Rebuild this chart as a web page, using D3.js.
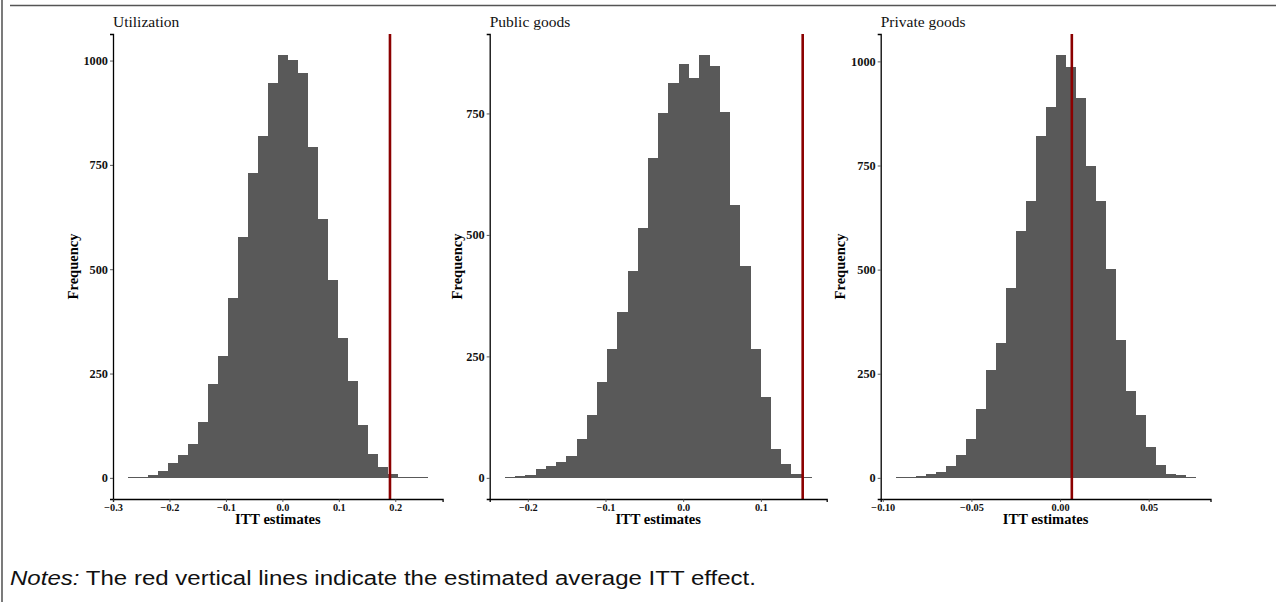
<!DOCTYPE html>
<html>
<head>
<meta charset="utf-8">
<script src="https://cdn.jsdelivr.net/npm/d3@7"></script>
<style>
  body { margin: 0; background: #fff; }
  .tick-label { font-family: "Liberation Serif", "Times New Roman", serif; font-weight: bold; fill: #111; }
  .axis-title { font-family: "Liberation Serif", "Times New Roman", serif; font-weight: bold; font-size: 14.5px; fill: #000; }
  .panel-title { font-family: "Liberation Serif", "Times New Roman", serif; font-size: 15.5px; fill: #111; }
  .notes { font-family: "Liberation Sans", Arial, sans-serif; font-size: 20px; fill: #111; }
</style>
</head>
<body>
<div class="chart"></div>
<script>
const titles = ['Utilization', 'Public goods', 'Private goods'];

// histogram bins: first edge and width (ITT units), 30 bins each
const binStart = [-0.2735, -0.2293, -0.0927];
const binWidth = [0.017693, 0.013143, 0.005637];

const countsUtil = [1, 2, 6, 16, 35, 54, 80, 135, 224, 293, 430, 578, 730, 819, 946, 1013, 1001, 970, 793, 621, 475, 336, 233, 126, 57, 26, 9, 2, 1, 1];
const countsPublic = [1, 3, 6, 18, 24, 32, 45, 80, 129, 197, 266, 342, 425, 515, 659, 751, 813, 852, 823, 870, 848, 753, 562, 437, 266, 166, 59, 28, 8, 1];
const countsPrivate = [1, 1, 4, 9, 14, 28, 54, 93, 165, 258, 323, 455, 592, 665, 821, 891, 1015, 986, 912, 749, 665, 502, 330, 208, 150, 74, 30, 9, 6, 1];
const counts = [countsUtil, countsPublic, countsPrivate];

// estimated average ITT effect (red lines)
const itt = [0.1906, 0.1538, 0.00665];

const yTicks = [[0, 250, 500, 750, 1000], [0, 250, 500, 750], [0, 250, 500, 750, 1000]];
const xTicks = [[-0.3, -0.2, -0.1, 0, 0.1, 0.2], [-0.2, -0.1, 0, 0.1], [-0.1, -0.05, 0, 0.05]];
const xFormat = ['.1f', '.1f', '.2f'];

const width = 1281, height = 602;

// panel layout (px)
const panelX = [[113, 442.6], [489.7, 826.7], [880.7, 1210.5]];
const freqX = [78, 461.5, 845];
const panelTop = 34, panelBottom = 499;

const svg = d3.select('.chart').append('svg')
  .attr('width', width)
  .attr('height', height);

// frame lines
svg.append('line')
  .attr('x1', 2).attr('x2', 2).attr('y1', 0).attr('y2', height)
  .style('stroke', '#222').style('stroke-width', 1.2);
svg.append('line')
  .attr('x1', 10).attr('x2', 1276).attr('y1', 5.5).attr('y2', 5.5)
  .style('stroke', '#555').style('stroke-width', 1.6);

titles.forEach((t, i) => {

  let c = counts[i];
  let bins = c.map((n, j) => ({x0: binStart[i] + j * binWidth[i], x1: binStart[i] + (j + 1) * binWidth[i], n: n}));

  let lo = bins[0].x0, hi = bins[bins.length - 1].x1;
  let pad = (hi - lo) * 0.05;

  let x = d3.scaleLinear()
  .domain([lo - pad, hi + pad])
  .range(panelX[i]);

  let maxN = d3.max(c);
  let y = d3.scaleLinear()
  .domain([-maxN * 0.05, maxN * 1.05])
  .range([panelBottom, panelTop]);

  const g = svg.append('g').attr('class', 'panel');

  g.selectAll('rect')
  .data(bins)
  .enter()
  .append('rect')
  .attr('x', d => x(d.x0))
  .attr('width', d => x(d.x1) - x(d.x0) + 0.5)
  .attr('y', d => y(d.n))
  .attr('height', d => y(0) - y(d.n))
  .attr('shape-rendering', 'crispEdges')
  .style('fill', '#595959');

  // red ITT line
  g.append('line')
  .attr('x1', x(itt[i])).attr('x2', x(itt[i]))
  .attr('y1', panelTop).attr('y2', panelBottom)
  .style('stroke', '#8b0000')
  .style('stroke-width', 2.6);

  const yAxis = g.append('g')
  .attr('transform', 'translate(' + panelX[i][0] + ',0)')
  .call(d3.axisLeft(y).tickValues(yTicks[i]).tickSize(3).tickPadding(2).tickFormat(d3.format('d')));

  const xAxis = g.append('g')
  .attr('transform', 'translate(0,' + panelBottom + ')')
  .call(d3.axisBottom(x).tickValues(xTicks[i]).tickSize(3).tickPadding(1.5).tickFormat(d3.format(xFormat[i])));

  [yAxis, xAxis].forEach(a => {
    a.select('.domain').style('stroke', '#000').style('stroke-width', 1.3);
    a.selectAll('.tick line').style('stroke', '#333').style('stroke-width', 0.8);
    a.selectAll('.tick text').attr('class', 'tick-label').style('fill', '#111');
  });
  yAxis.selectAll('.tick text').style('font-size', '12.3px');
  xAxis.selectAll('.tick text').style('font-size', '10.3px');

  g.append('text')
  .attr('class', 'panel-title')
  .attr('x', panelX[i][0])
  .attr('y', 27)
  .text(t);

  g.append('text')
  .attr('class', 'axis-title')
  .attr('text-anchor', 'middle')
  .attr('transform', 'translate(' + freqX[i] + ',' + ((panelTop + panelBottom) / 2) + ') rotate(-90)')
  .text('Frequency');

  g.append('text')
  .attr('class', 'axis-title')
  .attr('text-anchor', 'middle')
  .attr('x', (panelX[i][0] + panelX[i][1]) / 2)
  .attr('y', 524)
  .text('ITT estimates');

});

const notes = svg.append('text')
  .attr('class', 'notes')
  .attr('x', 10)
  .attr('y', 585)
  .attr('textLength', 746)
  .attr('lengthAdjust', 'spacingAndGlyphs');

notes.append('tspan').style('font-style', 'italic').text('Notes:');
notes.append('tspan').text(' The red vertical lines indicate the estimated average ITT effect.');
</script>
</body>
</html>
